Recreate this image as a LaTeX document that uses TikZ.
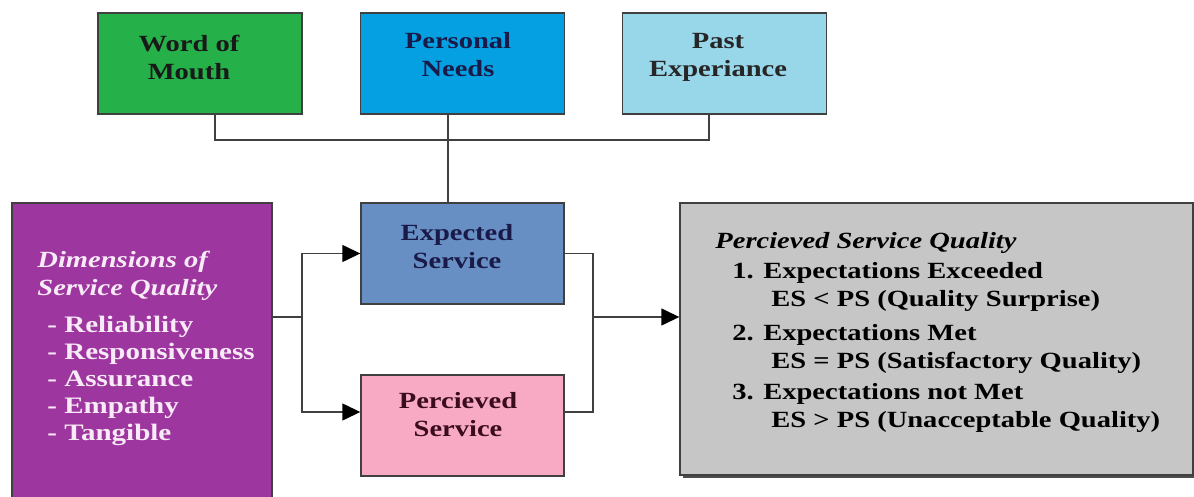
\documentclass[tikz,border=0pt]{standalone}
\usepackage{fontspec}
\setmainfont[FakeStretch=1.23]{Liberation Serif}
\usetikzlibrary{arrows.meta}

\definecolor{womgreen}{RGB}{38,176,74}
\definecolor{needblue}{RGB}{4,160,226}
\definecolor{pastblue}{RGB}{152,214,234}
\definecolor{expblue}{RGB}{104,143,196}
\definecolor{perpink}{RGB}{248,170,196}
\definecolor{dimpurple}{RGB}{158,54,160}
\definecolor{qualgray}{RGB}{198,198,198}
\definecolor{edge}{RGB}{64,64,64}
\definecolor{navytext}{RGB}{26,26,72}
\definecolor{maroontext}{RGB}{58,12,30}
\definecolor{dimtext}{RGB}{248,234,246}

\tikzset{
  box/.style={draw=edge, line width=0.7pt, rectangle, inner sep=0pt},
  topbox/.style={box, minimum width=102pt, minimum height=50.5pt},
  midbox/.style={box, minimum width=101.5pt, minimum height=50.5pt},
  lbl/.style={font=\fontsize{11.6}{14}\selectfont\bfseries, align=center, inner sep=0pt},
  lefttext/.style={font=\fontsize{11.6}{14}\selectfont\bfseries, align=left, inner sep=0pt, anchor=west},
  wire/.style={draw=edge, line width=0.7pt},
  arr/.style={wire, -{Triangle[length=9pt, width=8.5pt, color=black]}}
}

\begin{document}
\begin{tikzpicture}[x=0.5pt, y=-0.5pt]
\clip (0,0) rectangle (1194,497);
\fill[white] (0,0) rectangle (1194,497);

% influences on the expectation
\node[topbox, fill=womgreen] (wom)  at (200,63.5) {};
\node[topbox, fill=needblue] (need) at (462.5,63.5) {};
\node[topbox, fill=pastblue] (past) at (724.5,63.5) {};
\node[lbl, text=black!90]    (womtxt)  at (189,57) {Word of\\Mouth};
\node[lbl, text=navytext]    (needtxt) at (458,55) {Personal\\Needs};
\node[lbl, text=black!85]    (pasttxt) at (718,57) {Past\\Experiance};

% expected and perceived service
\node[midbox, fill=expblue] (es) at (462.5,253.5) {};
\node[midbox, fill=perpink] (ps) at (462.5,425.5) {};
\node[lbl, text=navytext]   (estxt) at (457,247) {Expected\\Service};
\node[lbl, text=maroontext] (pstxt) at (458,414.5) {Percieved\\Service};

% dimensions of service quality
\node[box, fill=dimpurple, minimum width=130pt, minimum height=150pt] (dim) at (142,353) {};
\node[lefttext, text=dimtext] (dimtitle) at (37,276)
  {\itshape Dimensions of\\\itshape Service Quality};
\node[lefttext, text=dimtext, font=\fontsize{11.8}{13.5}\selectfont\bfseries] (dimlist) at (47,381)
  {- Reliability\\- Responsiveness\\- Assurance\\- Empathy\\- Tangible};

% perceived service quality
\fill[black!70] (683,206) rectangle (1196,478);
\node[box, fill=qualgray, minimum width=256.5pt, minimum height=136pt] (psq) at (936.5,339) {};
\node[lefttext] (psqtitle) at (715,243) {\itshape Percieved Service Quality};
\node[lefttext] (item1) at (732,287)
  {1. Expectations Exceeded\\\hspace*{19.5pt}ES < PS (Quality Surprise)};
\node[lefttext] (item2) at (732,348.5)
  {2. Expectations Met\\\hspace*{19.5pt}ES = PS (Satisfactory Quality)};
\node[lefttext] (item3) at (732,407.5)
  {3. Expectations not Met\\\hspace*{19.5pt}ES > PS (Unacceptable Quality)};

% connectors
\coordinate (join)  at (448,140);
\coordinate (split) at (302,317);
\coordinate (merge) at (593,317);
\draw[wire] ([xshift=7.5pt]wom.south) |- (join) -| ([xshift=-7.75pt]past.south);
\draw[wire] ([xshift=-7.25pt]need.south) -- ([xshift=-7.25pt]es.north);
\draw[wire] ([yshift=18pt]dim.east) -- (split);
\draw[arr] (split) |- (es.west);
\draw[arr] (split) |- ([yshift=6.75pt]ps.west);
\draw[wire] (es.east) -| (merge) |- ([yshift=6.75pt]ps.east);
\draw[arr] (merge) -- ([yshift=11pt]psq.west);
\end{tikzpicture}
\end{document}
